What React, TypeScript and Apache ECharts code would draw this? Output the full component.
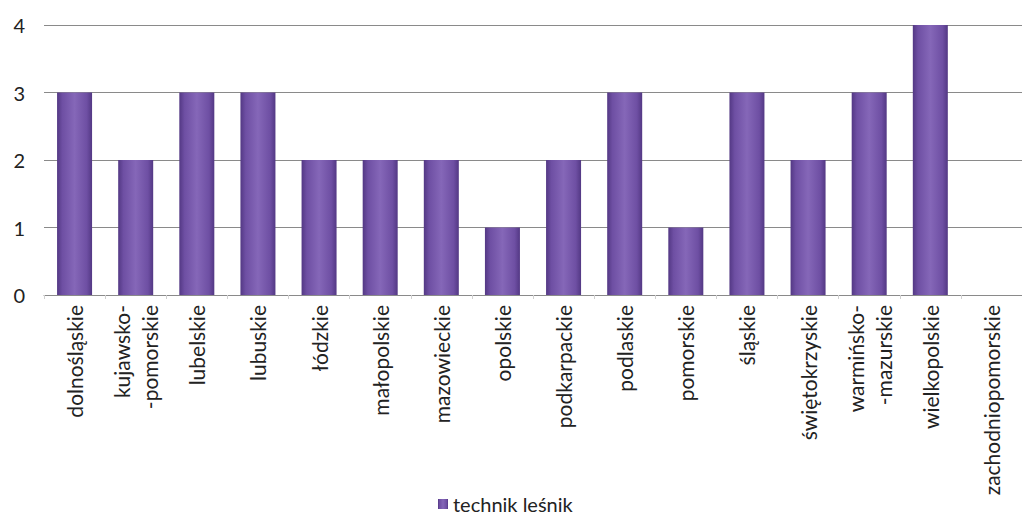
import React, { useEffect, useRef } from "react";
import * as echarts from "echarts";

const categories = [
  "dolnośląskie",
  "kujawsko-\n-pomorskie",
  "lubelskie",
  "lubuskie",
  "łódzkie",
  "małopolskie",
  "mazowieckie",
  "opolskie",
  "podkarpackie",
  "podlaskie",
  "pomorskie",
  "śląskie",
  "świętokrzyskie",
  "warmińsko-\n-mazurskie",
  "wielkopolskie",
  "zachodniopomorskie",
];
const values = [3, 2, 3, 3, 2, 2, 2, 1, 2, 3, 1, 3, 2, 3, 4, 0];
const seriesName = "technik leśnik";

const FONT = "Lato, 'Open Sans', sans-serif";

export default function App() {
  const ref = useRef<HTMLDivElement>(null);
  useEffect(() => {
    if (!ref.current) return;
    const chart = echarts.init(ref.current, undefined, { renderer: "svg" });
    const barColor = new echarts.graphic.LinearGradient(0, 0, 1, 0, [
      { offset: 0, color: "#533884" },
      { offset: 0.15, color: "#6e4fa3" },
      { offset: 0.5, color: "#8567b8" },
      { offset: 0.85, color: "#6e4fa3" },
      { offset: 1, color: "#533884" },
    ]);
    chart.setOption({
      animation: false,
      backgroundColor: "#ffffff",
      grid: { left: 44, right: -19, top: 25, bottom: 223, containLabel: false },
      legend: {
        top: 494,
        left: 438,
        padding: 0,
        itemWidth: 10,
        itemHeight: 10,
        icon: "rect",
        textStyle: { fontFamily: FONT, fontSize: 20, color: "#222" },
        data: [seriesName],
      },
      xAxis: {
        type: "category",
        data: categories,
        boundaryGap: true,
        axisLine: { lineStyle: { color: "#8a8a8a", width: 1 } },
        axisTick: { show: true, length: 4, lineStyle: { color: "#d0d0d0" } },
        axisLabel: {
          rotate: 90,
          interval: 0,
          margin: 10,
          fontFamily: FONT,
          fontSize: 21,
          color: "#222",
          lineHeight: 28,
        },
      },
      yAxis: {
        type: "value",
        min: 0,
        max: 4,
        interval: 1,
        axisLine: { show: false },
        axisTick: { show: false },
        axisLabel: { fontFamily: FONT, fontSize: 20, color: "#222", margin: 19 },
        splitLine: { lineStyle: { color: "#8a8a8a", width: 1 } },
      },
      series: [
        {
          name: seriesName,
          type: "bar",
          data: values,
          barWidth: 35,
          itemStyle: { color: barColor },
        },
      ],
    });
    return () => chart.dispose();
  }, []);
  return (
    <div
      ref={ref}
      style={{ position: "fixed", left: 0, top: 0, width: 1022, height: 518 }}
    />
  );
}
